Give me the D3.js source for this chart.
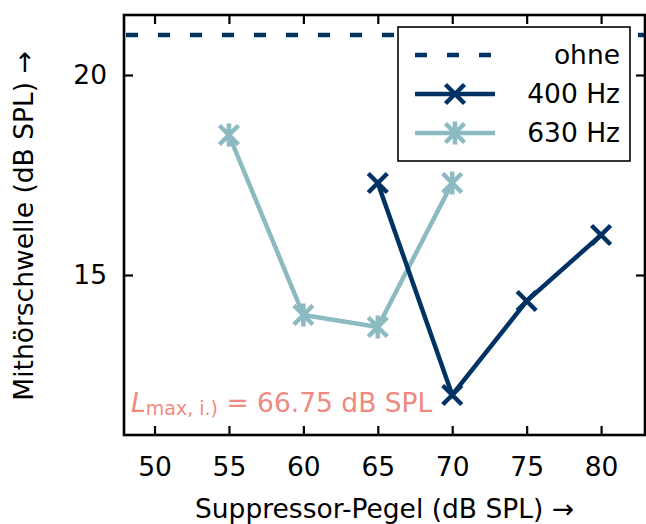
<!DOCTYPE html>
<html><head><meta charset="utf-8">
<script src="https://cdn.jsdelivr.net/npm/d3@7"></script>
<style>
body{margin:0;background:#fff;}
text{font-family:"DejaVu Sans",sans-serif;}
</style></head>
<body><svg id="c" width="646" height="524"></svg>
<script>
const xTicks = [50,55,60,65,70,75,80];
const yTicks = [15,20];
const ohneValue = 21.0;
const x400 = [65,70,75,80];
const y400 = [17.3,12.0,14.35,16.0];
const x630 = [55,60,65,70];
const y630 = [18.5,14.0,13.7,17.3];
const legendLabels = ["ohne","400 Hz","630 Hz"];
const annotation = {main:"L", sub:"max, i.)", rest:" = 66.75 dB SPL"};
const xLabel = "Suppressor-Pegel (dB SPL) \u2192";
const yLabel = "Mithörschwelle (dB SPL) \u2192";

const dark = "#003263", light = "#8bbac0", red = "#ef8a80";
const L = 124, R = 645, T = 15, B = 435;
const svg = d3.select("#c");
const x = d3.scaleLinear().domain([47.95,82.95]).range([L,R]);
const y = d3.scaleLinear().domain([11,21.5]).range([B,T]);
const fs = 26.5;

const tl = 9;
svg.append("g").attr("transform",`translate(0,${B})`)
  .call(d3.axisBottom(x).tickValues(xTicks).tickSize(-tl).tickPadding(tl+13))
  .call(g=>{g.select(".domain").remove();g.selectAll("text").attr("font-size",fs).attr("fill","#000").attr("font-family","DejaVu Sans");g.selectAll("line").attr("stroke","#000").attr("stroke-width",2.2);});
svg.append("g").attr("transform",`translate(0,${T})`)
  .call(d3.axisTop(x).tickValues(xTicks).tickSize(-tl).tickFormat(""))
  .call(g=>{g.select(".domain").remove();g.selectAll("line").attr("stroke","#000").attr("stroke-width",2.2);});
svg.append("g").attr("transform",`translate(${L},0)`)
  .call(d3.axisLeft(y).tickValues(yTicks).tickSize(-tl).tickPadding(tl+8))
  .call(g=>{g.select(".domain").remove();g.selectAll("text").attr("font-size",fs).attr("fill","#000").attr("font-family","DejaVu Sans");g.selectAll("line").attr("stroke","#000").attr("stroke-width",2.2);});
svg.append("g").attr("transform",`translate(${R},0)`)
  .call(d3.axisRight(y).tickValues(yTicks).tickSize(-tl).tickFormat(""))
  .call(g=>{g.select(".domain").remove();g.selectAll("line").attr("stroke","#000").attr("stroke-width",2.2);});

svg.append("line").attr("x1",L).attr("x2",R).attr("y1",y(ohneValue)).attr("y2",y(ohneValue))
  .attr("stroke",dark).attr("stroke-width",4.5).attr("stroke-dasharray","12,20").attr("stroke-dashoffset",-2);

const line = d3.line().x(d=>x(d[0])).y(d=>y(d[1]));
function xMark(g,cx,cy,col){
  const r=9.5;
  g.append("path").attr("d",`M${cx-r},${cy-r}L${cx+r},${cy+r}M${cx-r},${cy+r}L${cx+r},${cy-r}`)
   .attr("stroke",col).attr("stroke-width",4.5).attr("fill","none");
}
function starMark(g,cx,cy,col){
  const r=9.5, v=11.5;
  g.append("path").attr("d",`M${cx-r},${cy-r}L${cx+r},${cy+r}M${cx-r},${cy+r}L${cx+r},${cy-r}M${cx},${cy-v}L${cx},${cy+v}`)
   .attr("stroke",col).attr("stroke-width",4.5).attr("fill","none");
}
const d630 = x630.map((v,i)=>[v,y630[i]]);
const d400 = x400.map((v,i)=>[v,y400[i]]);
const g630 = svg.append("g");
g630.append("path").attr("d",line(d630)).attr("stroke",light).attr("stroke-width",4.5).attr("fill","none");
d630.forEach(d=>starMark(g630,x(d[0]),y(d[1]),light));
const g400 = svg.append("g");
g400.append("path").attr("d",line(d400)).attr("stroke",dark).attr("stroke-width",4.5).attr("fill","none");
d400.forEach(d=>xMark(g400,x(d[0]),y(d[1]),dark));

svg.append("rect").attr("x",L).attr("y",T).attr("width",R-L).attr("height",B-T)
  .attr("fill","none").attr("stroke","#000").attr("stroke-width",2.6);

const lg = svg.append("g");
lg.append("rect").attr("x",398).attr("y",27).attr("width",232).attr("height",134)
  .attr("fill","#fff").attr("stroke","#000").attr("stroke-width",1.6);
const rows=[55,94,133];
lg.append("line").attr("x1",415).attr("x2",495).attr("y1",rows[0]).attr("y2",rows[0])
  .attr("stroke",dark).attr("stroke-width",4.5).attr("stroke-dasharray","12,20");
lg.append("line").attr("x1",415).attr("x2",495).attr("y1",rows[1]).attr("y2",rows[1])
  .attr("stroke",dark).attr("stroke-width",4.5);
xMark(lg,455,rows[1],dark);
lg.append("line").attr("x1",415).attr("x2",495).attr("y1",rows[2]).attr("y2",rows[2])
  .attr("stroke",light).attr("stroke-width",4.5);
starMark(lg,455,rows[2],light);
legendLabels.forEach((t,i)=>{
  lg.append("text").attr("x",620).attr("y",rows[i]).attr("dy","0.35em").attr("text-anchor","end")
    .attr("font-size",fs).attr("fill","#000").text(t);
});

const at = svg.append("text").attr("x",131).attr("y",412).attr("font-size",fs).attr("fill",red);
at.append("tspan").attr("font-style","italic").text(annotation.main);
at.append("tspan").attr("font-size",19).attr("dy",3).text(annotation.sub);
at.append("tspan").attr("dy",-3).text(annotation.rest);

svg.append("text").attr("x",(L+R)/2).attr("y",518).attr("text-anchor","middle")
  .attr("font-size",fs).attr("fill","#000").text(xLabel);
svg.append("text").attr("transform",`translate(33,${226}) rotate(-90)`).attr("text-anchor","middle")
  .attr("font-size",fs).attr("fill","#000").text(yLabel);
</script></body></html>
